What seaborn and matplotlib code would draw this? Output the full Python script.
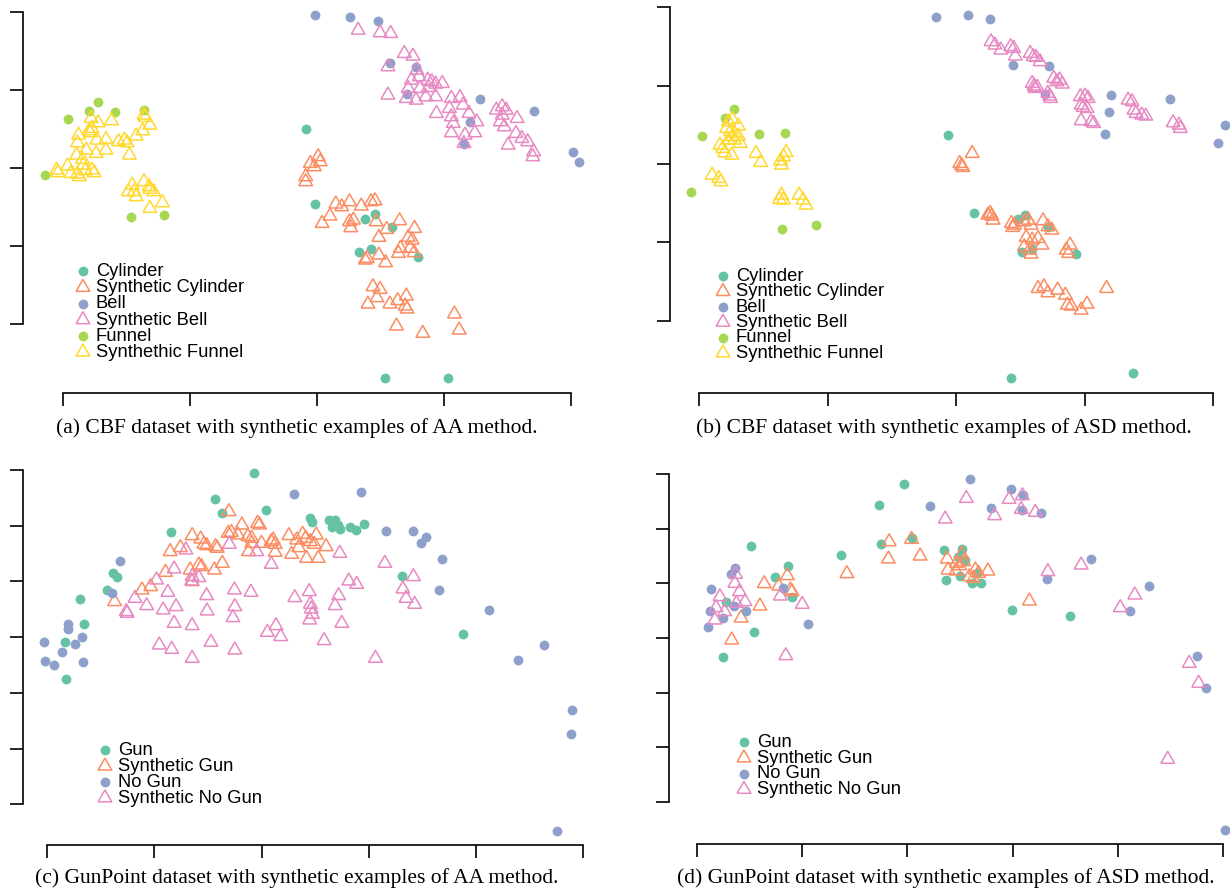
import numpy as np
import matplotlib
matplotlib.use("Agg")
import matplotlib.pyplot as plt
import seaborn as sns

# ----------------------------------------------------------------------
# Data: 2-D embedding coordinates (arbitrary units)
# ----------------------------------------------------------------------
# (a) CBF, AA method
a_cyl_x = [6.20, 6.43, 7.71, 7.97, 8.40, 7.57, 7.87, 9.06, 8.22, 9.83]
a_cyl_y = [5.83, 3.59, 3.13, 3.29, 2.91, 2.16, 2.23, 2.00, -1.63, -1.63]
a_scyl_x = [6.52, 6.32, 6.57, 6.42, 6.20, 6.20, 6.97, 7.12, 7.32, 7.62, 7.87, 7.97, 6.82, 6.62,
            7.32, 7.42, 7.35, 8.00, 8.07, 8.27, 8.60, 8.98, 8.82, 8.92, 8.62, 8.57, 8.87, 8.97,
            7.77, 7.72, 8.07, 8.24, 7.92, 8.10, 8.02, 7.79, 8.35, 8.55, 8.77, 8.74, 8.79, 10.00,
            10.12, 8.52, 9.19]
a_scyl_y = [5.01, 4.81, 4.86, 4.71, 4.41, 4.26, 3.59, 3.51, 3.66, 3.53, 3.66, 3.69, 3.23, 3.01,
            3.06, 3.11, 2.88, 3.06, 2.59, 2.83, 3.09, 2.86, 2.59, 2.51, 2.26, 2.11, 2.26, 2.13,
            1.96, 1.91, 2.06, 1.83, 1.11, 1.03, 0.78, 0.59, 0.59, 0.69, 0.83, 0.53, 0.44, 0.29,
            -0.19, -0.07, -0.29]
a_bell_x = [6.45, 7.33, 8.05, 8.36, 9.02, 8.79, 10.64, 12.02, 10.40, 10.24, 13.03, 13.18]
a_bell_y = [9.26, 9.20, 9.07, 7.82, 7.71, 6.90, 6.74, 6.38, 6.06, 5.39, 5.14, 4.85]
a_sbell_x = [7.54, 8.10, 8.37, 8.72, 8.94, 8.30, 9.04, 9.10, 8.90, 9.32, 9.42, 9.52, 9.69, 8.82,
             9.12, 9.34, 8.77, 9.02, 8.30, 9.27, 9.52, 9.92, 10.14, 9.87, 10.22, 10.37, 10.57,
             9.54, 9.92, 9.97, 9.92, 10.27, 10.52, 10.24, 11.07, 11.22, 11.32, 11.22, 11.17,
             11.27, 11.60, 11.57, 11.72, 11.87, 11.37, 12.02, 12.00]
a_sbell_y = [8.81, 8.73, 8.71, 8.11, 8.03, 7.71, 7.61, 7.41, 7.31, 7.31, 7.26, 7.19, 7.21, 7.06,
             7.06, 7.09, 6.76, 6.71, 6.86, 6.81, 6.81, 6.76, 6.79, 6.46, 6.56, 6.31, 6.06,
             6.31, 6.21, 6.01, 5.73, 5.66, 5.73, 5.41, 6.41, 6.51, 6.41, 6.26, 6.06,
             5.91, 6.16, 5.71, 5.56, 5.46, 5.36, 5.16, 5.01]
a_fun_x = [0.14, 0.67, 0.89, 1.34, 2.07, -0.46, 1.73, 2.58]
a_fun_y = [6.15, 6.38, 6.66, 6.36, 6.41, 4.46, 3.19, 3.27]
a_sfun_x = [0.72, 0.90, 1.24, 2.07, 2.10, 2.22, 0.40, 0.67, 0.74, 0.70, 0.87, 1.10, 1.42, 1.57,
            1.64, 1.87, 2.04, 0.37, 0.60, 0.85, 1.10, 1.70, 0.35, 0.50, 0.52, -0.16, -0.13, 0.12,
            0.20, 0.37, 0.42, 0.57, 0.74, 0.80, 1.77, 2.07, 2.20, 2.32, 1.82, 1.87, 2.22, 2.54,
            1.67, 2.22]
a_sfun_y = [6.16, 6.03, 6.09, 6.26, 6.19, 5.96, 5.66, 5.79, 5.86, 5.73, 5.51, 5.53, 5.46, 5.51,
            5.43, 5.63, 5.79, 5.43, 5.21, 5.11, 5.21, 5.06, 5.06, 4.93, 4.76, 4.61, 4.53, 4.73,
            4.51, 4.49, 4.41, 4.59, 4.61, 4.53, 4.16, 4.26, 4.11, 3.96, 3.96, 3.81, 3.46, 3.63,
            3.96, 4.03]

# (b) CBF, ASD method
b_cyl_x = [6.36, 7.02, 8.15, 8.33, 8.90, 8.25, 8.50, 9.63, 7.95, 11.08]
b_cyl_y = [5.58, 3.23, 3.04, 3.17, 2.82, 2.07, 2.14, 2.00, -1.72, -1.58]
b_scyl_x = [6.97, 6.65, 6.70, 6.73, 7.43, 7.47, 7.50, 7.37, 7.97, 8.05, 8.00, 8.30, 8.40, 8.47,
            8.78, 8.90, 9.00, 8.35, 8.50, 8.65, 8.75, 8.30, 8.43, 8.47, 9.37, 9.47, 9.43, 8.65,
            8.80, 8.90, 9.15, 9.35, 9.40, 9.50, 9.75, 9.90, 10.40]
b_scyl_y = [5.02, 4.72, 4.65, 4.60, 3.22, 3.14, 3.02, 3.17, 2.92, 2.87, 2.80, 2.97, 3.02, 2.87,
            3.00, 2.82, 2.72, 2.50, 2.42, 2.47, 2.27, 2.22, 2.12, 2.00, 2.12, 2.27, 2.02, 0.97,
            1.02, 0.84, 0.92, 0.77, 0.47, 0.44, 0.32, 0.50, 0.97]
b_bell_x = [6.04, 6.86, 7.43, 8.02, 8.93, 8.82, 10.52, 12.02, 10.47, 10.35, 13.43, 13.24]
b_bell_y = [9.12, 9.17, 9.04, 7.68, 7.63, 6.81, 6.78, 6.65, 6.25, 5.60, 5.88, 5.33]
b_sbell_x = [7.45, 7.55, 7.70, 7.95, 8.03, 8.07, 8.45, 8.53, 8.60, 8.70, 9.05, 9.20, 9.27, 9.13,
             8.50, 8.55, 8.57, 8.63, 8.90, 8.95, 8.97, 9.73, 9.85, 9.93, 9.75, 9.80, 9.90, 9.75,
             10.00, 10.07, 10.95, 11.05, 11.10, 11.15, 11.30, 11.40, 12.10, 12.25, 12.28]
b_sbell_y = [8.37, 8.27, 8.12, 8.22, 8.17, 7.94, 8.02, 7.92, 7.90, 7.77, 7.27, 7.22, 7.10, 7.17,
             7.12, 7.04, 6.97, 7.00, 6.82, 6.74, 6.67, 6.72, 6.74, 6.67, 6.47, 6.40, 6.37, 6.00,
             5.97, 5.92, 6.62, 6.57, 6.32, 6.22, 6.17, 6.14, 5.94, 5.87, 5.77]
b_fun_x = [0.90, 0.67, 0.08, 1.52, 2.18, -0.20, 2.12, 2.97]
b_fun_y = [6.34, 6.07, 5.53, 5.61, 5.63, 3.87, 2.75, 2.86]
b_sfun_x = [0.75, 0.85, 1.00, 0.70, 0.80, 0.90, 1.00, 0.85, 1.05, 0.75, 0.53, 0.60, 0.65, 0.83,
            0.90, 1.45, 1.57, 2.08, 2.15, 2.22, 2.10, 0.33, 0.50, 0.55, 2.10, 2.15, 2.55, 2.65,
            2.73, 2.05]
b_sfun_y = [5.97, 6.04, 5.84, 5.77, 5.67, 5.62, 5.54, 5.52, 5.32, 5.42, 5.27, 5.17, 5.04, 4.97,
            5.42, 5.02, 4.75, 4.80, 4.92, 5.05, 4.67, 4.37, 4.27, 4.17, 3.77, 3.62, 3.77, 3.62,
            3.47, 3.64]

# (c) GunPoint, AA method
c_gun_x = [5.27, 4.28, 4.45, 5.59, 3.16, 6.72, 6.77, 7.20, 7.34, 7.27, 7.42, 7.47, 7.74, 7.88,
           8.08, 1.69, 1.79, 1.52, 0.85, 0.94, 0.45, 0.49, 9.06, 10.62]
c_gun_y = [9.95, 9.16, 8.73, 8.83, 8.16, 8.60, 8.48, 8.53, 8.53, 8.33, 8.38, 8.26, 8.33, 8.23,
           8.40, 6.95, 6.83, 6.43, 6.15, 5.41, 4.87, 3.76, 6.85, 5.12]
c_sgun_x = [4.64, 4.97, 5.37, 5.42, 3.70, 3.92, 4.00, 4.07, 4.34, 4.62, 4.70, 4.87, 5.12, 5.22,
            5.22, 5.47, 5.72, 5.77, 5.82, 6.17, 6.37, 6.52, 6.60, 6.72, 6.87, 3.14, 3.40, 4.30,
            5.14, 5.82, 6.24, 6.42, 6.82, 7.12, 6.62, 6.92, 4.47, 3.87, 3.94, 3.65, 4.27, 3.02,
            3.70, 2.42, 2.64, 1.72]
c_sgun_y = [8.78, 8.38, 8.43, 8.38, 8.06, 7.96, 7.80, 7.76, 7.68, 8.13, 8.16, 8.08, 8.03, 7.98,
            7.83, 7.83, 7.88, 7.93, 7.80, 8.06, 7.93, 8.10, 7.98, 7.88, 8.08, 7.58, 7.70, 7.73,
            7.58, 7.56, 7.50, 7.70, 7.80, 7.73, 7.38, 7.38, 7.23, 7.18, 7.13, 7.03, 7.03, 6.96,
            6.68, 6.43, 6.53, 6.08]
c_nogun_x = [6.30, 8.02, 8.65, 9.35, 9.67, 9.54, 10.09, 10.01, 11.27, 12.69, 12.03, 13.40, 13.37,
             13.02, 1.85, 1.65, 0.52, 0.54, -0.07, 0.90, 0.72, 0.38, -0.05, 0.18, 0.92]
c_nogun_y = [9.32, 9.37, 8.21, 8.20, 8.03, 7.85, 7.35, 6.44, 5.83, 4.77, 4.34, 2.83, 2.10,
             -0.80, 7.31, 6.35, 5.41, 5.25, 4.86, 5.03, 4.82, 4.56, 4.31, 4.19, 4.28]
c_snogun_x = [3.54, 4.65, 5.35, 5.72, 7.47, 8.62, 3.24, 2.79, 3.70, 3.87, 3.69, 3.08, 2.24, 2.54,
              2.96, 3.29, 2.02, 2.04, 4.07, 4.08, 3.24, 3.70, 4.78, 5.20, 4.79, 4.74, 6.32, 6.69,
              6.72, 6.74, 6.77, 6.70, 7.44, 7.35, 7.52, 7.70, 7.90, 9.08, 9.35, 9.16, 9.38, 5.62,
              5.84, 5.96, 7.07, 4.18, 2.86, 3.18, 3.70, 4.79, 8.38]
c_snogun_y = [7.63, 7.80, 7.58, 7.20, 7.53, 7.23, 7.06, 6.73, 6.83, 6.80, 6.70, 6.36, 6.18, 5.96,
              5.83, 5.93, 5.78, 5.73, 6.26, 5.80, 5.43, 5.36, 6.43, 6.36, 5.93, 5.60, 6.20, 6.38,
              6.00, 5.86, 5.70, 5.53, 6.26, 5.96, 5.43, 6.70, 6.60, 6.46, 6.83, 6.18, 6.00, 5.16,
              5.36, 5.03, 4.91, 4.86, 4.78, 4.65, 4.38, 4.63, 4.38]

# (d) GunPoint, ASD method
d_gun_x = [5.28, 4.65, 4.69, 5.49, 3.69, 1.39, 2.33, 2.00, 2.43, 0.74, 1.47, 0.67, 6.31, 6.76,
           6.66, 6.84, 6.71, 6.36, 7.03, 7.26, 7.16, 8.05, 9.52]
d_gun_y = [9.55, 8.90, 7.73, 7.93, 7.41, 7.68, 7.07, 6.75, 6.16, 5.99, 5.10, 4.35, 7.57, 7.59,
           7.36, 7.26, 6.78, 6.67, 6.58, 6.58, 6.86, 5.77, 5.57]
d_sgun_x = [4.91, 5.48, 5.70, 4.89, 3.83, 1.72, 2.09, 2.31, 2.39, 2.43, 1.61, 1.13, 0.89, 6.39,
            6.76, 6.63, 6.71, 6.81, 6.41, 6.61, 6.96, 7.11, 7.19, 7.43, 7.06, 8.49]
d_sgun_y = [7.81, 7.88, 7.38, 7.29, 6.85, 6.55, 6.48, 6.79, 6.36, 6.31, 5.88, 5.52, 4.86, 7.29,
            7.43, 7.16, 7.09, 7.21, 6.96, 6.93, 6.76, 6.96, 6.86, 6.93, 6.71, 6.03]
d_nogun_x = [6.98, 5.96, 7.51, 8.02, 8.32, 8.29, 8.79, 10.05, 8.95, 11.54, 11.07, 12.77, 12.99,
             13.49, 0.98, 0.87, 0.35, 2.19, 0.33, 0.96, 0.68, 1.26, 0.28, 2.85]
d_nogun_y = [9.70, 8.89, 8.83, 9.38, 9.21, 8.76, 8.66, 7.29, 6.68, 6.47, 5.72, 4.39, 3.41,
             -0.85, 7.03, 6.83, 6.39, 6.41, 5.74, 5.88, 5.53, 5.74, 5.24, 5.33]
d_snogun_x = [6.88, 6.34, 7.60, 7.97, 8.31, 8.28, 8.64, 8.96, 9.81, 11.18, 10.81, 12.57, 12.81,
              12.02, 0.99, 0.97, 1.09, 1.23, 0.59, 0.49, 0.71, 0.46, 1.01, 2.13, 2.69, 2.27]
d_snogun_y = [9.11, 8.49, 8.59, 9.08, 9.19, 8.78, 8.69, 6.91, 7.11, 6.21, 5.83, 4.16, 3.56,
              1.28, 6.83, 6.56, 6.31, 6.01, 6.16, 5.83, 5.71, 5.46, 5.96, 6.18, 5.93, 4.39]

cbf_labels = ["Cylinder", "Synthetic Cylinder", "Bell", "Synthetic Bell", "Funnel",
              "Synthethic Funnel"]
gun_labels = ["Gun", "Synthetic Gun", "No Gun", "Synthetic No Gun"]
captions = ["(a) CBF dataset with synthetic examples of AA method.",
            "(b) CBF dataset with synthetic examples of ASD method.",
            "(c) GunPoint dataset with synthetic examples of AA method.",
            "(d) GunPoint dataset with synthetic examples of ASD method."]

# ----------------------------------------------------------------------
sns.set_style("white")
plt.rcParams["font.family"] = ["Liberation Sans", "DejaVu Sans"]

W, H = 1230, 890
fig = plt.figure(figsize=(W / 100, H / 100), dpi=100)

pal = sns.color_palette("Set2", 6)
TRI = [(-1.0, -0.577), (1.0, -0.577), (0.0, 1.155), (-1.0, -0.577)]


def px_rect(left, top, right, bottom):
    return [left / W, 1 - bottom / H, (right - left) / W, (bottom - top) / H]


def panel(rect, groups, xlim, ylim, xticks, yticks, leg_xy, spacing):
    ax = fig.add_axes(rect)
    for i, (xs, ys, lab) in enumerate(groups):
        col = pal[i]
        if i % 2 == 0:
            sns.scatterplot(x=xs, y=ys, ax=ax, marker="o", s=50, color=col,
                            linewidth=0, label=lab)
        else:
            sns.scatterplot(x=xs, y=ys, ax=ax, marker=TRI, s=130, facecolor="none",
                            edgecolor=col, linewidth=1.1, label=lab)
    ax.set_xlim(*xlim)
    ax.set_ylim(*ylim)
    ax.set_xticks(xticks)
    ax.set_yticks(yticks)
    ax.tick_params(axis="both", direction="out", length=9.5, width=1.2, color="black",
                   labelleft=False, labelbottom=False, left=True, bottom=True)
    for side in ["top", "right"]:
        ax.spines[side].set_visible(False)
    ax.spines["left"].set_bounds(yticks[0], yticks[-1])
    ax.spines["bottom"].set_bounds(xticks[0], xticks[-1])
    for side in ["left", "bottom"]:
        ax.spines[side].set_color("black")
        ax.spines[side].set_linewidth(1.2)
    ax.patch.set_alpha(0)
    leg = ax.legend(loc="upper left", bbox_to_anchor=(leg_xy[0] / W, 1 - leg_xy[1] / H),
                    bbox_transform=fig.transFigure, frameon=False, fontsize=13.2,
                    handlelength=0.8, handletextpad=0.3, labelspacing=spacing,
                    borderpad=0, borderaxespad=0, markerscale=1.0)
    for t in leg.get_texts():
        t.set_color("black")
    ax.set_xlabel("")
    ax.set_ylabel("")
    return ax


panel(px_rect(23.5, 0.5, 600.5, 392.5),
      [(a_cyl_x, a_cyl_y, cbf_labels[0]), (a_scyl_x, a_scyl_y, cbf_labels[1]),
       (a_bell_x, a_bell_y, cbf_labels[2]), (a_sbell_x, a_sbell_y, cbf_labels[3]),
       (a_fun_x, a_fun_y, cbf_labels[4]), (a_sfun_x, a_sfun_y, cbf_labels[5])],
      (-1.006, 13.73), (-2.066, 9.70),
      np.arange(5) * 3.2425, np.arange(5) * 2.3375, (75.6, 263), -0.045)

panel(px_rect(670.0, 0.5, 1246.4, 392.7),
      [(b_cyl_x, b_cyl_y, cbf_labels[0]), (b_scyl_x, b_scyl_y, cbf_labels[1]),
       (b_bell_x, b_bell_y, cbf_labels[2]), (b_sbell_x, b_sbell_y, cbf_labels[3]),
       (b_fun_x, b_fun_y, cbf_labels[4]), (b_sfun_x, b_sfun_y, cbf_labels[5])],
      (-0.745, 13.97), (-2.156, 9.606),
      np.arange(5) * 3.2825, np.arange(5) * 2.35, (715.6, 268), -0.09)

panel(px_rect(23.3, 458.3, 594.4, 845.3),
      [(c_gun_x, c_gun_y, gun_labels[0]), (c_sgun_x, c_sgun_y, gun_labels[1]),
       (c_nogun_x, c_nogun_y, gun_labels[2]), (c_snogun_x, c_snogun_y, gun_labels[3])],
      (-0.61, 13.97), (-1.23, 10.38),
      np.arange(6) * 2.738, np.arange(7) * 1.672, (97.6, 742), -0.06)

panel(px_rect(669.4, 464.7, 1230, 844.3),
      [(d_gun_x, d_gun_y, gun_labels[0]), (d_sgun_x, d_sgun_y, gun_labels[1]),
       (d_nogun_x, d_nogun_y, gun_labels[2]), (d_snogun_x, d_snogun_y, gun_labels[3])],
      (-0.70, 13.61), (-1.27, 10.12),
      np.arange(6) * 2.688, np.arange(7) * 1.64, (736.6, 734), -0.07)

cap_pos = [(297, 428), (944, 428), (297, 878), (946, 878)]
for txt, (cx, cy) in zip(captions, cap_pos):
    fig.text(cx / W, 1 - cy / H, txt, ha="center", va="center", fontsize=15.5,
             family=["Liberation Serif", "DejaVu Serif"], color="black")

fig.savefig("out.png", dpi=100)
